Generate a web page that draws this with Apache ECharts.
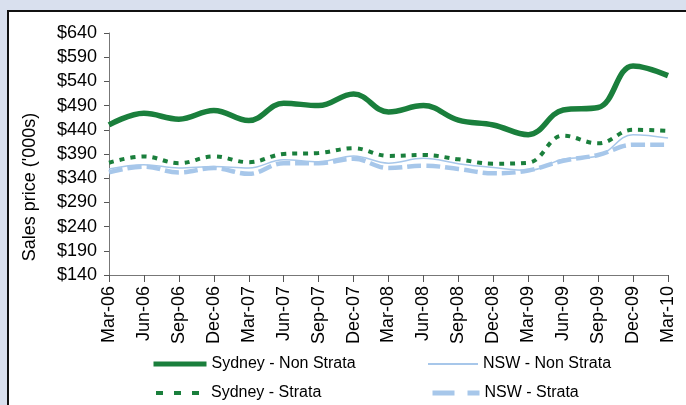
<!DOCTYPE html>
<html>
<head>
<meta charset="utf-8">
<script src="https://cdn.jsdelivr.net/npm/echarts@6/dist/echarts.min.js"></script>
<style>
html,body{margin:0;padding:0;background:#d9e0ee;}
#c{width:686px;height:405px;}
</style>
</head>
<body>
<div id="c"></div>
<script>
const categories = ['Mar-06','Jun-06','Sep-06','Dec-06','Mar-07','Jun-07','Sep-07','Dec-07','Mar-08','Jun-08','Sep-08','Dec-08','Mar-09','Jun-09','Sep-09','Dec-09','Mar-10'];
const sydneyNonStrata = [450,474,462,480,459,495,490,514,477,490,460,450,430,481,486,572,552];
const sydneyStrata    = [372,385,371,385,373,390,392,402,386,388,379,370,372,428,412,440,438];
const nswNonStrata    = [359,368,361,364,361,378,374,386,371,381,370,362,356,379,386,430,423];
const nswStrata       = [352,364,352,361,349,371,371,380,361,366,359,350,356,376,388,409,409];
const yMin = 140, yMax = 640, yStep = 50;

const GREEN = '#1a7f3c';
const BLUE = '#a7c7ea';
const FONT = '"Liberation Sans", Arial, sans-serif';

function legendAt(name, left, top, w, lineStyle) {
  return {
    show: true, orient: 'horizontal', left: left, top: top,
    itemWidth: w, itemHeight: 14, padding: 0,
    itemStyle: {opacity: 0},
    lineStyle: lineStyle,
    textStyle: {color: '#000', fontSize: 16, fontFamily: FONT},
    data: [name]
  };
}

const chart = echarts.init(document.getElementById('c'), null, {renderer:'canvas'});
chart.setOption({
  backgroundColor: '#d9e0ee',
  animation: false,
  graphic: [{
    type: 'rect', z: -10, silent: true,
    shape: {x: 8, y: 11, width: 700, height: 420},
    style: {fill: '#ffffff', stroke: '#111111', lineWidth: 2}
  }],
  grid: {left: 109, right: 18, top: 33, bottom: 130},
  xAxis: {
    type: 'category', data: categories, boundaryGap: false,
    axisLine: {lineStyle: {color: '#777777', width: 1}},
    axisTick: {show: true, inside: false, length: 7, lineStyle: {color: '#555555'}},
    axisLabel: {rotate: 90, margin: 11, color: '#000', fontSize: 18, fontFamily: FONT, interval: 0},
    splitLine: {show: false}
  },
  yAxis: {
    type: 'value', min: yMin, max: yMax, interval: yStep,
    name: "Sales price ('000s)", nameLocation: 'middle', nameGap: 70,
    nameTextStyle: {color: '#000', fontSize: 18, fontFamily: FONT, padding: [0, 66, 0, 0]},
    axisLine: {show: true, lineStyle: {color: '#777777', width: 1}},
    axisTick: {show: true, inside: false, length: 5, lineStyle: {color: '#555555'}},
    axisLabel: {margin: 12, color: '#000', fontSize: 18, fontFamily: FONT, formatter: v => '$' + v},
    splitLine: {show: false}
  },
  legend: [
    legendAt('Sydney - Non Strata', 151, 356, 53, {color: GREEN, width: 5, type: 'solid'}),
    legendAt('Sydney - Strata', 151, 385, 53, {color: GREEN, width: 4, type: [7, 11], dashOffset: -3, cap: 'butt'}),
    legendAt('NSW - Non Strata', 427, 356, 50, {color: BLUE, width: 2, type: 'solid'}),
    legendAt('NSW - Strata', 427, 385, 50, {color: BLUE, width: 5, type: [22, 13], cap: 'butt'})
  ],
  series: [{
    name: 'Sydney - Non Strata', type: 'line', data: sydneyNonStrata, smooth: 0.4,
    symbol: 'none', color: GREEN, lineStyle: {color: GREEN, width: 5.5}
  }, {
    name: 'Sydney - Strata', type: 'line', data: sydneyStrata, smooth: 0.4,
    symbol: 'none', color: GREEN, lineStyle: {color: GREEN, width: 4, type: [5, 6], cap: 'butt'}
  }, {
    name: 'NSW - Non Strata', type: 'line', data: nswNonStrata, smooth: 0.4,
    symbol: 'none', color: BLUE, lineStyle: {color: BLUE, width: 1.5}
  }, {
    name: 'NSW - Strata', type: 'line', data: nswStrata, smooth: 0.4,
    symbol: 'none', color: BLUE, lineStyle: {color: BLUE, width: 4.5, type: [14, 5], cap: 'butt'}
  }]
});
</script>
</body>
</html>
